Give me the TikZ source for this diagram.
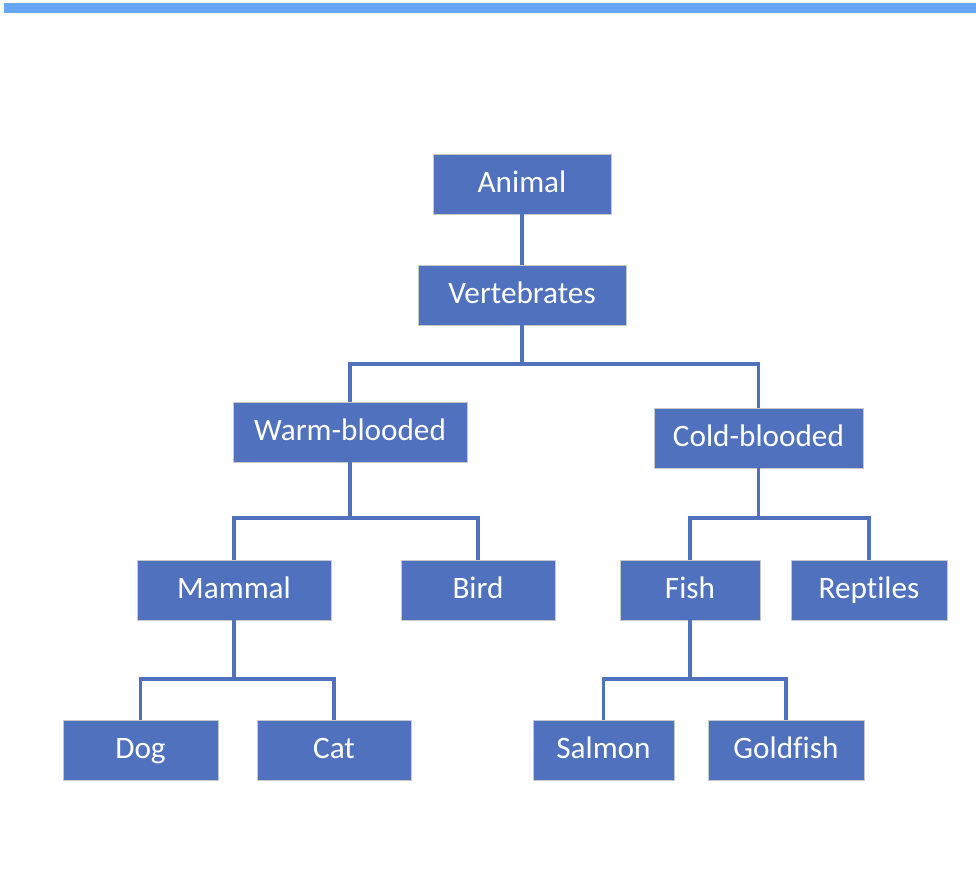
\documentclass[tikz,border=0pt]{standalone}
\usepackage{fontspec}
\setmainfont{Carlito}[Ligatures={NoCommon}]
\definecolor{boxblue}{HTML}{4F71BE}
\definecolor{boxedge}{HTML}{C9C9C9}
\definecolor{barblue}{HTML}{66A6F2}
\begin{document}
\begin{tikzpicture}[x=0.025cm,y=-0.025cm,line width=1.5pt,
    box/.style={draw=boxedge,line width=0.6pt,fill=boxblue,text=white,inner sep=0pt,minimum height=60*0.025cm,text height=16pt,text depth=3.5pt,font=\fontsize{22.2}{26}\selectfont},
    link/.style={draw=boxblue,line width=2.3pt}]
        \useasboundingbox (0,0) rectangle (976,894);
        \fill[barblue] (4,3.5) rectangle (976,12.5);
        \foreach \n/\x/\y/\w/\t in {animal/522/184/178/Animal,vert/522/295/208/Vertebrates,warm/350/432/234/Warm-blooded,cold/758.5/438/209/Cold-blooded,mammal/234/590/194/Mammal,bird/478/590/154/Bird,fish/690/590/140/Fish,rept/869/590/156/Reptiles,dog/140.5/750/155/Dog,cat/334/750/154/Cat,salmon/603.5/750/141/Salmon,gold/786/750/156/Goldfish}{%
            \node[box,minimum width=\w*0.025cm] (\n) at (\x,\y) {\t};
        }
        \coordinate (J-1) at (522,364);
        \coordinate (J-2) at (350,518);
        \coordinate (J-3) at (758.5,518);
        \coordinate (J-4) at (234,679);
        \coordinate (J-5) at (690,679);
        \draw[link] (animal) -- (vert);
        \draw[link] (vert.south) -- (J-1);
        \draw[link] (warm.north) |- (J-1) -| (cold.north);
        \draw[link] (warm.south) -- (J-2);
        \draw[link] (mammal.north) |- (J-2) -| (bird.north);
        \draw[link] (cold.south) -- (J-3);
        \draw[link] (fish.north) |- (J-3) -| (rept.north);
        \draw[link] (mammal.south) -- (J-4);
        \draw[link] (dog.north) |- (J-4) -| (cat.north);
        \draw[link] (fish.south) -- (J-5);
        \draw[link] (salmon.north) |- (J-5) -| (gold.north);
    \end{tikzpicture}
\end{document}
